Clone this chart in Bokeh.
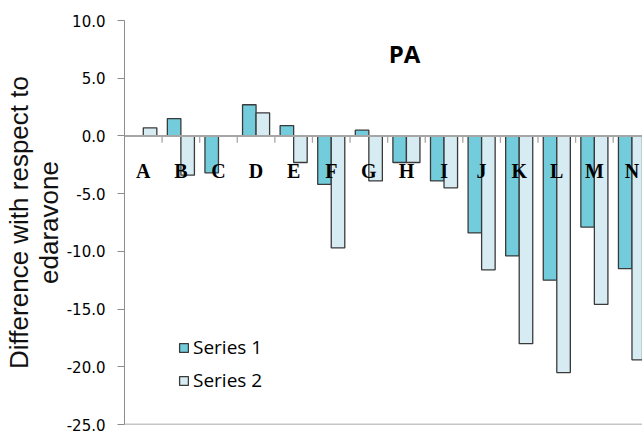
from bokeh.plotting import figure
from bokeh.models import (Range1d, FixedTicker, NumeralTickFormatter,
                          Span, Label, Legend, LegendItem, ColumnDataSource)
from bokeh.core.properties import value
from bokeh.transform import dodge
from bokeh.embed import file_html
from bokeh.resources import INLINE

categories = ["A", "B", "C", "D", "E", "F", "G", "H", "I", "J", "K", "L", "M", "N"]
series1 = [0.0, 1.5, -3.2, 2.7, 0.9, -4.2, 0.5, -2.3, -3.9, -8.4, -10.4, -12.5, -7.9, -11.5]
series2 = [0.7, -3.4, 0.0, 2.0, -2.3, -9.7, -3.9, -2.3, -4.5, -11.6, -18.0, -20.5, -14.6, -19.4]
y_ticks = [-25, -20, -15, -10, -5, 0, 5, 10]
y_title = "Difference with respect to\nedaravone"

pos = [i + 0.5 for i in range(len(categories))]
src = ColumnDataSource(dict(pos=pos, cat=categories, s1=series1, s2=series2))
bounds = ColumnDataSource(dict(b=list(range(1, len(categories)))))

p = figure(width=642, height=433, output_backend="svg", toolbar_location=None,
           x_range=Range1d(0, 13.78), y_range=Range1d(-25, 10),
           x_axis_location=None, y_axis_location="left",
           min_border_left=124, min_border_right=0, min_border_top=20, min_border_bottom=9)
p.outline_line_color = None
p.grid.visible = False
p.background_fill_color = "white"
p.border_fill_color = "white"

bw = 0.36
r1 = p.vbar(x=dodge("pos", -bw / 2, range=p.x_range), top="s1", bottom=0, width=bw, source=src,
            fill_color="#72CCDB", line_color="#3a3a3a", line_width=1.3)
r2 = p.vbar(x=dodge("pos", bw / 2, range=p.x_range), top="s2", bottom=0, width=bw, source=src,
            fill_color="#D6EBF2", line_color="#3a3a3a", line_width=1.3)

# y axis
ya = p.yaxis[0]
ya.ticker = FixedTicker(ticks=y_ticks)
ya.formatter = NumeralTickFormatter(format="0.0")
ya.major_tick_out = 7
ya.major_tick_in = 0
ya.minor_tick_out = 0
ya.minor_tick_in = 0
ya.axis_line_color = "#8c8c8c"
ya.major_tick_line_color = "#8c8c8c"
ya.major_label_standoff = 12
ya.major_label_text_font = "DejaVu Sans"
ya.major_label_text_font_size = "15px"
ya.major_label_text_color = "#000000"
ya.axis_label = y_title
ya.axis_label_text_font = "Liberation Sans"
ya.axis_label_text_font_size = "26px"
ya.axis_label_text_font_style = "normal"
ya.axis_label_text_line_height = 1.0
ya.axis_label_text_color = "#111111"
ya.axis_label_standoff = 0

# zero line with category boundary ticks
p.add_layout(Span(location=0, dimension="width", line_color="#a6a6a6", line_width=2))
p.segment(x0="b", y0=0, x1="b", y1=-0.6, source=bounds, line_color="#a6a6a6", line_width=1.3)

p.add_layout(Span(location=-25, dimension="width", line_color="#8c8c8c", line_width=1.5))

# category labels
p.text(x="pos", y=-3.05, text="cat", source=src, text_align="center", text_baseline="middle",
       text_font=value("Liberation Serif"), text_font_style="bold", text_font_size="20px",
       text_color="#000000")

p.add_layout(Label(x=7.45, y=7.15, text="PA", text_align="center", text_baseline="middle",
                   text_font="Open Sans", text_font_style="bold", text_font_size="24px",
                   text_color="#000000"))

legend = Legend(items=[LegendItem(label="Series 1", renderers=[r1]),
                       LegendItem(label="Series 2", renderers=[r2])],
                location=(54, 31), orientation="vertical",
                glyph_width=11, glyph_height=11, label_standoff=4,
                label_height=20, spacing=7, padding=0, margin=0,
                border_line_color=None, background_fill_alpha=0,
                label_text_font="Open Sans", label_text_font_size="19px",
                label_text_color="#000000")
p.add_layout(legend, "center")

open("out.html", "w").write(file_html(p, INLINE))
